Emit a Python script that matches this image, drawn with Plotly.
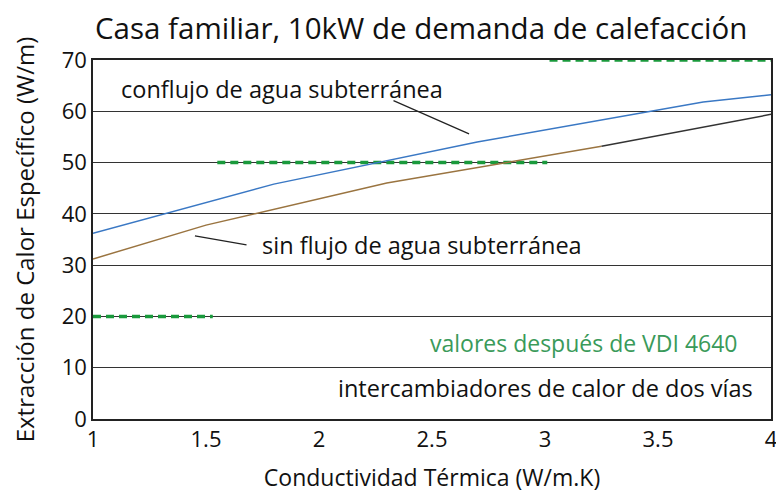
import plotly.graph_objects as go

# Data
x_con = [1.0, 1.8, 2.7, 3.7, 4.0]
y_con = [36.2, 45.8, 54.0, 61.8, 63.2]
x_sin = [1.0, 1.5, 2.3, 3.25]
y_sin = [31.2, 37.8, 46.0, 53.2]
x_sin_ext = [3.25, 4.0]
y_sin_ext = [53.2, 59.4]
vdi_x = [[1.0, 1.53], [1.55, 3.01], [3.02, 4.0]]
vdi_y = [20, 50, 70]
x_ticks = [1, 1.5, 2, 2.5, 3, 3.5, 4]
x_tick_labels = ["1", "1.5", "2", "2.5", "3", "3.5", "4"]
y_ticks = [0, 10, 20, 30, 40, 50, 60, 70]

FONT = "Open Sans"
fig = go.Figure()
for xs, yv in zip(vdi_x, vdi_y):
    fig.add_trace(go.Scatter(x=xs, y=[yv, yv], mode="lines",
                             line=dict(color="#1a9a3c", width=3.5, dash="8px,5px"),
                             hoverinfo="skip"))
fig.add_trace(go.Scatter(x=x_con, y=y_con, mode="lines",
                         line=dict(color="#3a78c4", width=1.5)))
fig.add_trace(go.Scatter(x=x_sin, y=y_sin, mode="lines",
                         line=dict(color="#9a7440", width=1.5)))
fig.add_trace(go.Scatter(x=x_sin_ext, y=y_sin_ext, mode="lines",
                         line=dict(color="#333333", width=1.5)))

ann = [
    dict(x=2.664, y=55.6, ax=2.323, ay=62.2, axref="x", ayref="y", text="",
         showarrow=True, arrowhead=0, arrowwidth=1.2, arrowcolor="#222"),
    dict(x=1.451, y=35.7, ax=1.686, ay=33.9, axref="x", ayref="y", text="",
         showarrow=True, arrowhead=0, arrowwidth=1.2, arrowcolor="#222"),
    dict(x=1.115, y=64.3, text="conflujo de agua subterránea", xanchor="left",
         showarrow=False, font=dict(size=23.5, color="#111", family=FONT)),
    dict(x=1.739, y=33.9, text="sin flujo de agua subterránea", xanchor="left",
         showarrow=False, font=dict(size=23.5, color="#111", family=FONT)),
    dict(x=3.863, y=14.8, text="valores después de VDI 4640", xanchor="right",
         showarrow=False, font=dict(size=23, color="#3a9a5a", family=FONT)),
    dict(x=3.929, y=6.0, text="intercambiadores de calor de dos vías", xanchor="right",
         showarrow=False, font=dict(size=23.5, color="#111", family=FONT)),
]

fig.update_layout(
    width=784, height=493,
    margin=dict(l=85, r=21, t=52, b=82, autoexpand=False),
    paper_bgcolor="white", plot_bgcolor="white",
    showlegend=False,
    title=dict(text="Casa familiar, 10kW de demanda de calefacción",
               x=87/784, xanchor="left", y=1 - 21/493, yanchor="middle",
               font=dict(size=29.5, color="#111", family=FONT)),
    annotations=ann,
    font=dict(family=FONT, color="#111"),
)
fig.update_xaxes(range=[1, 4], tickvals=x_ticks, ticktext=x_tick_labels,
                 showgrid=False, showline=True, linecolor="#222", linewidth=1.5,
                 mirror=True, ticks="", tickfont=dict(size=22), automargin=False,
                 title=dict(text="Conductividad Térmica (W/m.K)", font=dict(size=23), standoff=18))
fig.update_yaxes(range=[0, 70], tickvals=y_ticks, showgrid=True, gridcolor="#333",
                 gridwidth=1.3, showline=True, linecolor="#222", linewidth=1.5,
                 mirror=True, ticks="", tickfont=dict(size=22), zeroline=False, automargin=False,
                 title=dict(text="Extracción de Calor Específico (W/m)", font=dict(size=24), standoff=22))

fig.write_html("out.html")
